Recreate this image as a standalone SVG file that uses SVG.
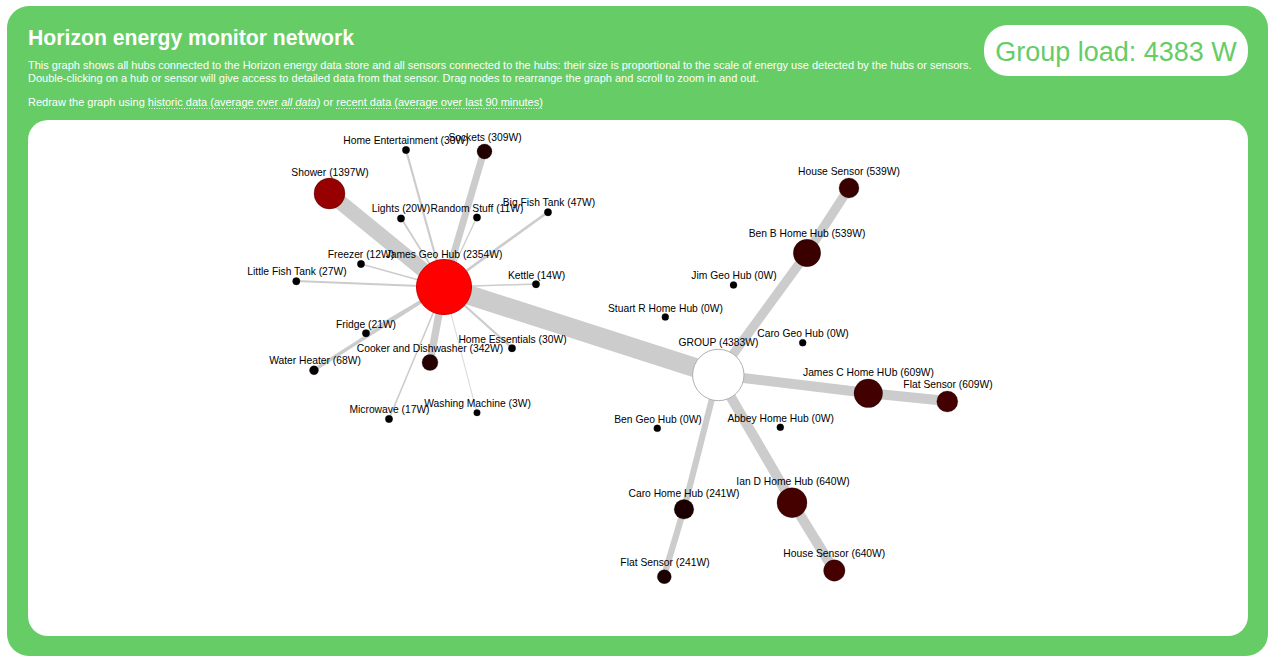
<svg xmlns="http://www.w3.org/2000/svg" width="1275" height="668" viewBox="0 0 1275 668">
<style>
.hdr{font-family:"Liberation Sans",Arial,Helvetica,sans-serif;fill:#ffffff}
.lbl{font-family:"Liberation Sans",Arial,Helvetica,sans-serif;font-size:10.3px;fill:#000000;text-anchor:middle}
.e{stroke:#cccccc;fill:none}
.n{stroke:rgba(0,0,0,0.25);stroke-width:1}
.lnk{stroke:#ffffff;stroke-width:1;stroke-dasharray:1 1.5}
</style>
<rect x="0" y="0" width="1275" height="668" fill="#ffffff"/>
<rect x="7" y="6" width="1261" height="650" rx="22" ry="22" fill="#66cc66"/>
<rect x="28" y="120" width="1220" height="516" rx="20" ry="20" fill="#ffffff"/>
<g id="header">
<text class="hdr" x="28" y="45" font-size="21.2" font-weight="bold">Horizon energy monitor network</text>
<text class="hdr" x="28" y="69" font-size="11">This graph shows all hubs connected to the Horizon energy data store and all sensors connected to the hubs: their size is proportional to the scale of energy use detected by the hubs or sensors.</text>
<text class="hdr" x="28" y="82" font-size="11">Double-clicking on a hub or sensor will give access to detailed data from that sensor. Drag nodes to rearrange the graph and scroll to zoom in and out.</text>
<text class="hdr" x="28" y="106" font-size="11">Redraw the graph using <tspan>historic data (average over </tspan><tspan font-style="italic">all data</tspan><tspan>)</tspan> or <tspan>recent data (average over last 90 minutes)</tspan></text>
<line class="lnk" x1="149" y1="108.5" x2="319" y2="108.5"/>
<line class="lnk" x1="336" y1="108.5" x2="543" y2="108.5"/>
</g>
<g id="group-load">
<rect x="984" y="25" width="264" height="51" rx="24" ry="24" fill="#ffffff"/>
<text x="1116" y="61" font-family="'Liberation Sans',Arial,Helvetica,sans-serif" font-size="27" fill="#66cc66" text-anchor="middle">Group load: 4383 W</text>
</g>
<g id="edges">
<line class="e" x1="718" y1="375" x2="444" y2="287" stroke-width="19.4"/>
<line class="e" x1="718" y1="375" x2="807" y2="253" stroke-width="9.3"/>
<line class="e" x1="807" y1="253" x2="849" y2="188" stroke-width="9.3"/>
<line class="e" x1="718" y1="375" x2="868" y2="393" stroke-width="9.9"/>
<line class="e" x1="868" y1="393" x2="947" y2="401" stroke-width="9.9"/>
<line class="e" x1="718" y1="375" x2="792" y2="502" stroke-width="10.1"/>
<line class="e" x1="792" y1="502" x2="834" y2="570" stroke-width="10.1"/>
<line class="e" x1="718" y1="375" x2="684" y2="509" stroke-width="6.2"/>
<line class="e" x1="684" y1="509" x2="664" y2="576" stroke-width="6.2"/>
<line class="e" x1="444" y1="287" x2="329" y2="193" stroke-width="15"/>
<line class="e" x1="444" y1="287" x2="484" y2="151" stroke-width="7"/>
<line class="e" x1="444" y1="287" x2="430" y2="362" stroke-width="7.4"/>
<line class="e" x1="444" y1="287" x2="406" y2="150" stroke-width="2.2"/>
<line class="e" x1="444" y1="287" x2="401" y2="218" stroke-width="1.8"/>
<line class="e" x1="444" y1="287" x2="477" y2="217" stroke-width="1.3"/>
<line class="e" x1="444" y1="287" x2="548" y2="212" stroke-width="2.7"/>
<line class="e" x1="444" y1="287" x2="361" y2="264" stroke-width="1.4"/>
<line class="e" x1="444" y1="287" x2="296" y2="281" stroke-width="2.1"/>
<line class="e" x1="444" y1="287" x2="536" y2="284" stroke-width="1.5"/>
<line class="e" x1="444" y1="287" x2="366" y2="333" stroke-width="1.8"/>
<line class="e" x1="444" y1="287" x2="314" y2="370" stroke-width="3.3"/>
<line class="e" x1="444" y1="287" x2="512" y2="348" stroke-width="2.2"/>
<line class="e" x1="444" y1="287" x2="389" y2="419" stroke-width="1.6"/>
<line class="e" x1="444" y1="287" x2="477" y2="413" stroke-width="0.8"/>
</g>
<g id="n-home-entertainment"><circle class="n" cx="406" cy="150" r="3.7" fill="#000"/><text class="lbl" x="406" y="144">Home Entertainment (30W)</text></g>
<g id="n-sockets"><circle class="n" cx="484.5" cy="151.5" r="7.5" fill="#210000"/><text class="lbl" x="485" y="141">Sockets (309W)</text></g>
<g id="n-shower"><circle class="n" cx="329.5" cy="193.5" r="15.5" fill="#970000"/><text class="lbl" x="330" y="176">Shower (1397W)</text></g>
<g id="n-lights"><circle class="n" cx="401" cy="218.5" r="3.7" fill="#000"/><text class="lbl" x="401" y="212">Lights (20W)</text></g>
<g id="n-random-stuff"><circle class="n" cx="477" cy="217.5" r="3.7" fill="#000"/><text class="lbl" x="477" y="212">Random Stuff (11W)</text></g>
<g id="n-big-fish-tank"><circle class="n" cx="548" cy="212.3" r="3.7" fill="#000"/><text class="lbl" x="549" y="205.5">Big Fish Tank (47W)</text></g>
<g id="n-freezer"><circle class="n" cx="361" cy="264" r="3.7" fill="#000"/><text class="lbl" x="361" y="258">Freezer (12W)</text></g>
<g id="n-little-fish-tank"><circle class="n" cx="296.3" cy="281.3" r="3.7" fill="#000"/><text class="lbl" x="297" y="275">Little Fish Tank (27W)</text></g>
<g id="n-kettle"><circle class="n" cx="536" cy="284.3" r="3.7" fill="#000"/><text class="lbl" x="536.5" y="278.5">Kettle (14W)</text></g>
<g id="n-fridge"><circle class="n" cx="366" cy="333.3" r="3.7" fill="#000"/><text class="lbl" x="366" y="327.5">Fridge (21W)</text></g>
<g id="n-water-heater"><circle class="n" cx="314" cy="370.3" r="4.5" fill="#050000"/><text class="lbl" x="315" y="363.5">Water Heater (68W)</text></g>
<g id="n-home-essentials"><circle class="n" cx="512" cy="348.3" r="3.7" fill="#000"/><text class="lbl" x="512.5" y="342.5">Home Essentials (30W)</text></g>
<g id="n-microwave"><circle class="n" cx="389" cy="419" r="3.7" fill="#000"/><text class="lbl" x="389.5" y="413">Microwave (17W)</text></g>
<g id="n-washing-machine"><circle class="n" cx="477" cy="412.7" r="3.3" fill="#000"/><text class="lbl" x="477.5" y="407">Washing Machine (3W)</text></g>
<g id="n-james-geo-hub"><circle class="n" cx="444" cy="287" r="27.5" fill="#ff0000" style="stroke:#cc0000"/><text class="lbl" x="444" y="257.5">James Geo Hub (2354W)</text></g>
<g id="n-cooker-dishwasher"><circle class="n" cx="430" cy="362.5" r="8" fill="#250000"/><text class="lbl" x="430" y="351.8">Cooker and Dishwasher (342W)</text></g>
<g id="n-house-sensor-539"><circle class="n" cx="849" cy="188" r="10" fill="#3a0000"/><text class="lbl" x="849" y="175">House Sensor (539W)</text></g>
<g id="n-ben-b-home-hub"><circle class="n" cx="807" cy="253" r="13.7" fill="#3a0000"/><text class="lbl" x="807" y="237">Ben B Home Hub (539W)</text></g>
<g id="n-jim-geo-hub"><circle class="n" cx="733.5" cy="285" r="3.5" fill="#000"/><text class="lbl" x="734" y="279">Jim Geo Hub (0W)</text></g>
<g id="n-stuart-r-home-hub"><circle class="n" cx="665.3" cy="317" r="3.5" fill="#000"/><text class="lbl" x="665.5" y="312">Stuart R Home Hub (0W)</text></g>
<g id="n-caro-geo-hub"><circle class="n" cx="802.7" cy="342.7" r="3.5" fill="#000"/><text class="lbl" x="803" y="337">Caro Geo Hub (0W)</text></g>
<g id="n-group"><circle cx="718.3" cy="375" r="25.7" fill="#ffffff" stroke="#b0b0b0" stroke-width="1"/><text class="lbl" x="718.5" y="346">GROUP (4383W)</text></g>
<g id="n-james-c-home-hub"><circle class="n" cx="868.3" cy="393.3" r="14.3" fill="#420000"/><text class="lbl" x="868.5" y="376">James C Home HUb (609W)</text></g>
<g id="n-flat-sensor-609"><circle class="n" cx="947.3" cy="401.5" r="10.5" fill="#420000"/><text class="lbl" x="948" y="387.5">Flat Sensor (609W)</text></g>
<g id="n-ben-geo-hub"><circle class="n" cx="657.3" cy="428.3" r="3.5" fill="#000"/><text class="lbl" x="658" y="422.5">Ben Geo Hub (0W)</text></g>
<g id="n-abbey-home-hub"><circle class="n" cx="780.3" cy="427.3" r="3.5" fill="#000"/><text class="lbl" x="780.7" y="422">Abbey Home Hub (0W)</text></g>
<g id="n-ian-d-home-hub"><circle class="n" cx="792" cy="502.7" r="15" fill="#450000"/><text class="lbl" x="793" y="484.5">Ian D Home Hub (640W)</text></g>
<g id="n-house-sensor-640"><circle class="n" cx="834.3" cy="570.5" r="10.7" fill="#450000"/><text class="lbl" x="834.3" y="557">House Sensor (640W)</text></g>
<g id="n-caro-home-hub"><circle class="n" cx="684" cy="509.3" r="9.8" fill="#1a0000"/><text class="lbl" x="684" y="497">Caro Home Hub (241W)</text></g>
<g id="n-flat-sensor-241"><circle class="n" cx="664.3" cy="576.7" r="7" fill="#1a0000"/><text class="lbl" x="665" y="565.5">Flat Sensor (241W)</text></g>
</svg>
